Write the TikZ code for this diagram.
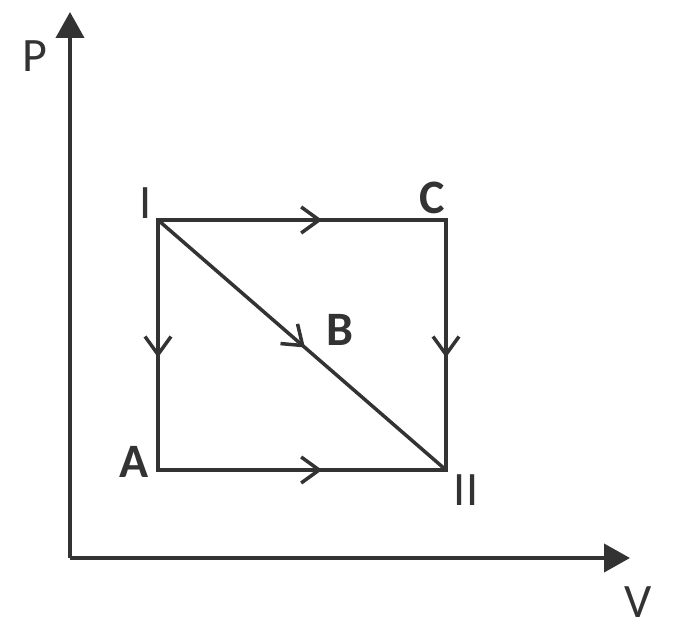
\documentclass[tikz,border=0pt]{standalone}
\usepackage{fontspec}
\setmainfont{Carlito}
\usetikzlibrary{arrows.meta,decorations.markings}
\tikzset{>={Triangle[length=26pt,width=28pt]}}
\definecolor{Ink}{RGB}{51,51,51}
\tikzset{
  mid/.style={postaction={decorate},decoration={markings,
    mark=at position #1 with {\arrow{Straight Barb[length=18pt,width=26pt,line width=3.5pt]}}}},
  lbl/.style={font=\fontsize{48}{52}\selectfont,text=Ink,inner sep=0pt}
}

\begin{document}
\begin{tikzpicture}[x=1pt,y=-1pt,line width=3.5pt,color=Ink]
        \useasboundingbox (0,0) rectangle (683,631);
        \coordinate (O) at (70,558);
        \coordinate (Ptop) at (70,12);
        \coordinate (Vend) at (630,558);
        \coordinate (I) at (158,220);
        \coordinate (C) at (446,220);
        \coordinate (A) at (158,470);
        \coordinate (II) at (446,470);
        \draw[->,line width=4pt](O)--(Ptop);
        \draw[->,line width=4pt](O)--(Vend);
        \draw[mid=0.57,line cap=rect](I)--(C);
        \draw[mid=0.55](C)--(II);
        \draw[mid=0.55](I)--(A);
        \draw[mid=0.57,line cap=rect](A)--(II);
        \draw[mid=0.51](I)--(II);
        \node[lbl] (Plbl) at (35,56) {P};
        \node[lbl] (Vlbl) at (638,602) {V};
        \node[lbl] (Ilbl) at (146,203) {I};
        \node[lbl] (IIlbl) at (466,490) {II};
        \node[lbl,font=\fontsize{48}{52}\selectfont\bfseries] (Albl) at (134,462) {A};
        \node[lbl,font=\fontsize{48}{52}\selectfont\bfseries] (Blbl) at (340,330) {B};
        \node[lbl,font=\fontsize{48}{52}\selectfont\bfseries] (Clbl) at (432,198) {C};
\end{tikzpicture}
\end{document}
